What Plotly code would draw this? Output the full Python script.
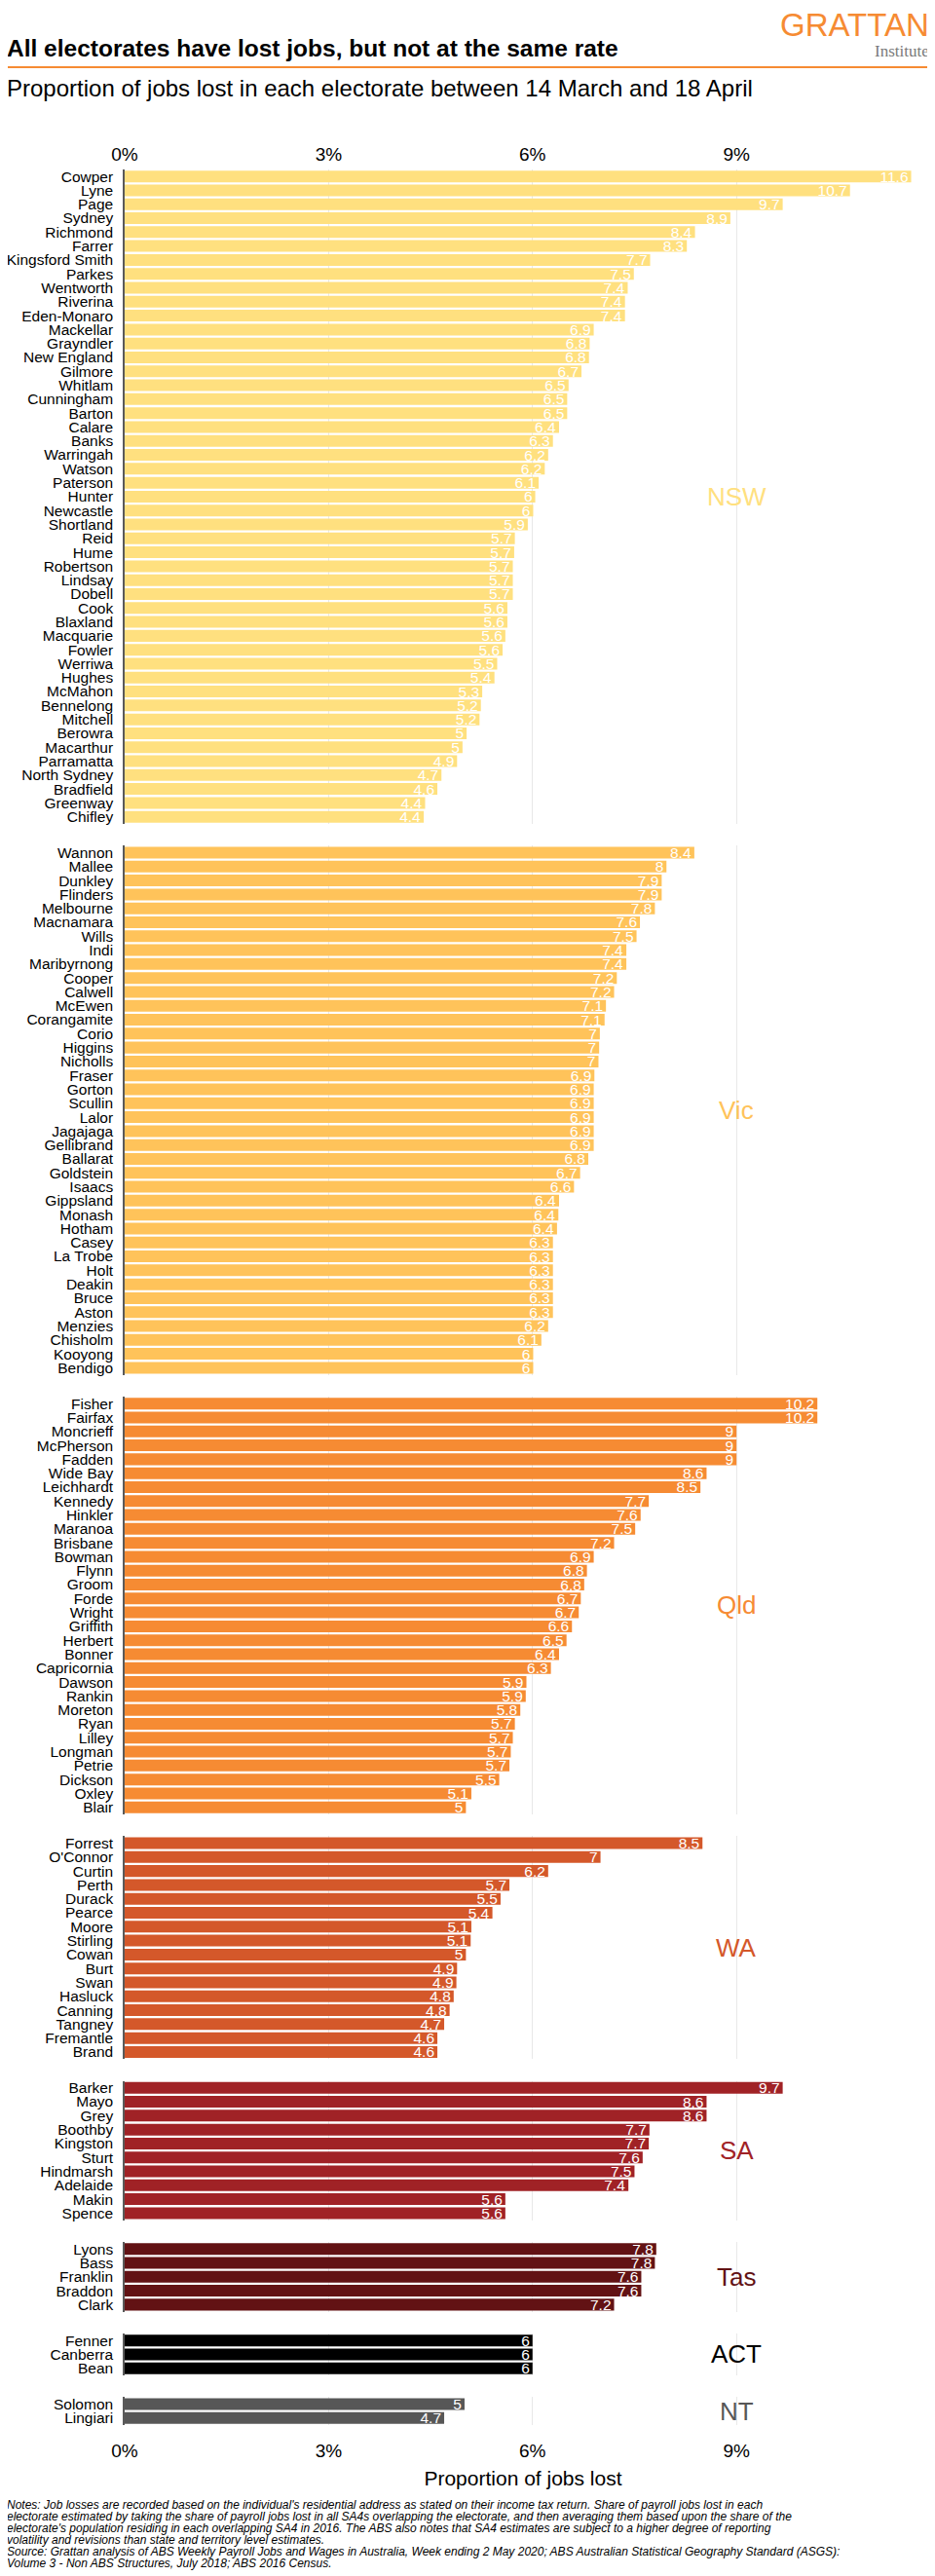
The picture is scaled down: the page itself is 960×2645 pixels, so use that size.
import plotly.graph_objects as go

# ---------------- data ----------------
states = ["NSW", "Vic", "Qld", "WA", "SA", "Tas", "ACT", "NT"]
state_colours = ["#FFE07F", "#FFC35A", "#F68B33", "#D4582A", "#A02226", "#621214", "#000000", "#575757"]

nsw_names = ["Cowper", "Lyne", "Page", "Sydney", "Richmond", "Farrer", "Kingsford Smith", "Parkes",
             "Wentworth", "Riverina", "Eden-Monaro", "Mackellar", "Grayndler", "New England", "Gilmore",
             "Whitlam", "Cunningham", "Barton", "Calare", "Banks", "Warringah", "Watson", "Paterson",
             "Hunter", "Newcastle", "Shortland", "Reid", "Hume", "Robertson", "Lindsay", "Dobell", "Cook",
             "Blaxland", "Macquarie", "Fowler", "Werriwa", "Hughes", "McMahon", "Bennelong", "Mitchell",
             "Berowra", "Macarthur", "Parramatta", "North Sydney", "Bradfield", "Greenway", "Chifley"]
nsw_values = [11.57, 10.67, 9.68, 8.91, 8.39, 8.27, 7.73, 7.49, 7.40, 7.36, 7.36, 6.90, 6.84, 6.83, 6.72,
              6.53, 6.51, 6.51, 6.39, 6.30, 6.23, 6.18, 6.09, 6.04, 6.01, 5.93, 5.74, 5.73, 5.71, 5.71,
              5.71, 5.63, 5.63, 5.60, 5.56, 5.48, 5.44, 5.26, 5.24, 5.22, 5.03, 4.97, 4.89, 4.66, 4.60,
              4.42, 4.40]

vic_names = ["Wannon", "Mallee", "Dunkley", "Flinders", "Melbourne", "Macnamara", "Wills", "Indi",
             "Maribyrnong", "Cooper", "Calwell", "McEwen", "Corangamite", "Corio", "Higgins", "Nicholls",
             "Fraser", "Gorton", "Scullin", "Lalor", "Jagajaga", "Gellibrand", "Ballarat", "Goldstein",
             "Isaacs", "Gippsland", "Monash", "Hotham", "Casey", "La Trobe", "Holt", "Deakin", "Bruce",
             "Aston", "Menzies", "Chisholm", "Kooyong", "Bendigo"]
vic_values = [8.38, 7.97, 7.90, 7.90, 7.80, 7.58, 7.53, 7.38, 7.38, 7.24, 7.20, 7.08, 7.06, 6.99, 6.98,
              6.97, 6.91, 6.90, 6.90, 6.90, 6.90, 6.90, 6.82, 6.70, 6.61, 6.39, 6.38, 6.36, 6.30, 6.30,
              6.30, 6.30, 6.30, 6.30, 6.23, 6.13, 6.01, 6.01]

qld_names = ["Fisher", "Fairfax", "Moncrieff", "McPherson", "Fadden", "Wide Bay", "Leichhardt", "Kennedy",
             "Hinkler", "Maranoa", "Brisbane", "Bowman", "Flynn", "Groom", "Forde", "Wright", "Griffith",
             "Herbert", "Bonner", "Capricornia", "Dawson", "Rankin", "Moreton", "Ryan", "Lilley",
             "Longman", "Petrie", "Dickson", "Oxley", "Blair"]
qld_values = [10.19, 10.19, 9.00, 9.00, 9.00, 8.56, 8.47, 7.71, 7.59, 7.51, 7.20, 6.90, 6.80, 6.76, 6.71,
              6.68, 6.58, 6.50, 6.39, 6.27, 5.91, 5.90, 5.82, 5.74, 5.71, 5.68, 5.66, 5.51, 5.10, 5.02]

wa_names = ["Forrest", "O'Connor", "Curtin", "Perth", "Durack", "Pearce", "Moore", "Stirling", "Cowan",
            "Burt", "Swan", "Hasluck", "Canning", "Tangney", "Fremantle", "Brand"]
wa_values = [8.50, 7.00, 6.23, 5.66, 5.53, 5.41, 5.10, 5.09, 5.02, 4.89, 4.88, 4.84, 4.78, 4.70, 4.60, 4.60]

sa_names = ["Barker", "Mayo", "Grey", "Boothby", "Kingston", "Sturt", "Hindmarsh", "Adelaide", "Makin", "Spence"]
sa_values = [9.68, 8.56, 8.56, 7.72, 7.71, 7.62, 7.50, 7.41, 5.60, 5.60]

tas_names = ["Lyons", "Bass", "Franklin", "Braddon", "Clark"]
tas_values = [7.82, 7.80, 7.60, 7.60, 7.20]

act_names = ["Fenner", "Canberra", "Bean"]
act_values = [6.00, 6.00, 6.00]

nt_names = ["Solomon", "Lingiari"]
nt_values = [5.00, 4.70]

x_ticks = [0, 3, 6, 9]
x_tick_labels = ["0%", "3%", "6%", "9%"]

title_text = "All electorates have lost jobs, but not at the same rate"
subtitle_text = "Proportion of jobs lost in each electorate between 14 March and 18 April"
x_title = "Proportion of jobs lost"
notes_lines = [
    "Notes: Job losses are recorded based on the individual's residential address as stated on their income tax return. Share of payroll jobs lost in each",
    "electorate estimated by taking the share of payroll jobs lost in all SA4s overlapping the electorate, and then averaging them based upon the share of the",
    "electorate's population residing in each overlapping SA4 in 2016. The ABS also notes that SA4 estimates are subject to a higher degree of reporting",
    "volatility and revisions than state and territory level estimates.",
    "Source: Grattan analysis of ABS Weekly Payroll Jobs and Wages in Australia, Week ending 2 May 2020; ABS Australian Statistical Geography Standard (ASGS):",
    "Volume 3 - Non ABS Structures, July 2018; ABS 2016 Census.",
]

all_names = [nsw_names, vic_names, qld_names, wa_names, sa_names, tas_names, act_names, nt_names]
all_values = [nsw_values, vic_values, qld_values, wa_values, sa_values, tas_values, act_values, nt_values]

# ---------------- layout geometry ----------------
# The page body has an 8px default margin, so the figure is drawn 8px in from the
# top-left corner of the window; page coordinates are converted accordingly.
FONT = "Liberation Sans, Arial, sans-serif"
OFF = 8
W, H = 960 - OFF, 2645 - OFF
ML, MR, MT, MB = 128 - OFF, 14, 174 - OFF, 155
PW = W - ML - MR
PH = H - MT - MB
GAP = 22.5
counts = [len(n) for n in all_names]
row_h = (PH - GAP * (len(counts) - 1)) / sum(counts)
X_MAX = 11.72


def py(px_page):
    return (H - MB - (px_page - OFF)) / PH


def pxx(px_page):
    return (px_page - OFF - ML) / PW


def clamp(v):
    return min(1.0, max(0.0, v))


def fmt(v):
    return f"{round(v, 1):g}"


fig = go.Figure()
layout = {}
annotations = []
top = PH
last = len(states) - 1
for i, (st, col, names, vals) in enumerate(zip(states, state_colours, all_names, all_values)):
    n = len(names)
    h = n * row_h
    d1 = clamp(top / PH)
    d0 = clamp((top - h) / PH)
    top = top - h - GAP
    ax = "" if i == 0 else str(i + 1)
    fig.add_trace(go.Bar(
        x=vals, y=names, orientation="h",
        marker=dict(color=col, line=dict(width=0)),
        text=[fmt(v) for v in vals], textposition="inside", insidetextanchor="end",
        textangle=0, constraintext="none",
        textfont=dict(color="white", size=15.5, family=FONT),
        xaxis="x" + ax, yaxis="y" + ax, hoverinfo="skip", showlegend=False,
    ))
    xa = dict(
        domain=[0, 1], anchor="y" + ax, range=[0, X_MAX],
        tickmode="array", tickvals=x_ticks, ticktext=x_tick_labels,
        showgrid=True, gridcolor="#E8E8E8", gridwidth=1, zeroline=False,
        showline=False, ticks="",
        showticklabels=(i == 0 or i == last),
        side="top" if i == 0 else "bottom",
        tickfont=dict(size=19, color="black", family=FONT),
        fixedrange=True,
    )
    if i == 0:
        xa["ticklabelstandoff"] = 4
    if i == last:
        xa["ticklabelstandoff"] = 13
        xa["title"] = dict(text=x_title, font=dict(size=21, color="black", family=FONT), standoff=11)
    layout["xaxis" + ax] = xa
    layout["yaxis" + ax] = dict(
        domain=[d0, d1], anchor="x" + ax, range=[n - 0.5, -0.5],
        type="category", categoryorder="array", categoryarray=names,
        tickmode="array", tickvals=names, ticktext=names,
        showline=True, linecolor="#5A5A5A", linewidth=1.5, ticks="",
        showgrid=False, zeroline=False,
        tickfont=dict(size=15.5, color="black", family=FONT),
        ticklabelstandoff=7, fixedrange=True,
    )
    annotations.append(dict(
        x=9, y=0.5, xref="x" + ax, yref=("y" + ax + " domain"),
        text=st, showarrow=False, xanchor="center", yanchor="middle",
        font=dict(size=26, color=col, family=FONT),
    ))

# header
annotations.append(dict(x=pxx(5), y=py(50), xref="paper", yref="paper", xanchor="left", yanchor="middle",
                        text="<b>" + title_text + "</b>", showarrow=False,
                        font=dict(size=24.5, color="black", family=FONT)))
annotations.append(dict(x=pxx(5), y=py(91), xref="paper", yref="paper", xanchor="left", yanchor="middle",
                        text=subtitle_text, showarrow=False,
                        font=dict(size=24, color="black", family=FONT)))
annotations.append(dict(x=pxx(956), y=py(26), xref="paper", yref="paper", xanchor="right", yanchor="middle",
                        text="GRATTAN", showarrow=False,
                        font=dict(size=33, color="#F68B33", family=FONT)))
annotations.append(dict(x=pxx(956), y=py(52), xref="paper", yref="paper", xanchor="right", yanchor="middle",
                        text="Institute", showarrow=False,
                        font=dict(size=17, color="#7A7A7A", family="Liberation Serif, Times New Roman, serif")))

notes_y = [2572, 2584, 2596, 2608, 2620, 2632]
for line, yy in zip(notes_lines, notes_y):
    annotations.append(dict(x=pxx(5), y=py(yy), xref="paper", yref="paper", xanchor="left", yanchor="middle",
                            text="<i>" + line + "</i>", showarrow=False,
                            font=dict(size=12, color="black", family=FONT)))

fig.update_layout(
    width=W, height=H,
    margin=dict(l=ML, r=MR, t=MT, b=MB, autoexpand=False),
    paper_bgcolor="white", plot_bgcolor="white",
    bargap=0.16,
    font=dict(family=FONT, color="black"),
    annotations=annotations,
    shapes=[dict(type="line", xref="paper", yref="paper", x0=pxx(5), x1=pxx(958),
                 y0=py(69), y1=py(69), line=dict(color="#F68B33", width=2))],
    **layout,
)

fig.write_html("out.html")
